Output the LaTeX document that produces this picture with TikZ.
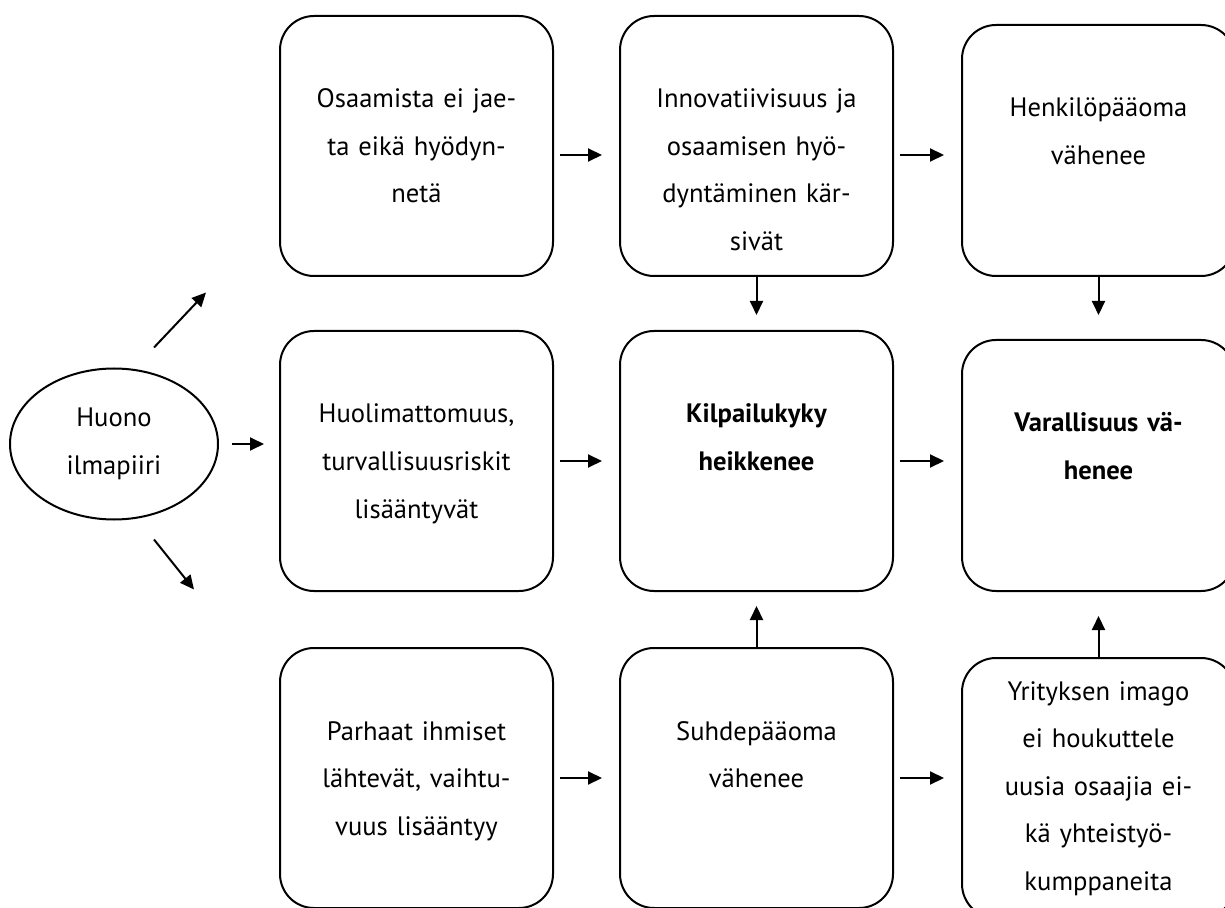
\documentclass[tikz,border=0pt]{standalone}
\usepackage{fontspec}
\setmainfont{PT Sans}
\usetikzlibrary{arrows.meta,positioning,shapes.geometric}
\tikzset{flowbox/.style={draw,line width=1pt,rounded corners=17pt,
 minimum width=136.5pt,minimum height=130pt,inner sep=0pt},
 boxtxt/.style={anchor=base,yshift=-46.5pt,text width=132pt,align=center,
 inner sep=0pt,font=\fontsize{13.3}{23.75}\selectfont},
 flowarr/.style={-{Triangle[length=7pt,width=6.5pt]},line width=1pt,
 shorten <=3pt,shorten >=8.5pt}}

\begin{document}
\begin{tikzpicture}
\useasboundingbox (0,0) rectangle (612.5pt,-454pt);
\node[flowbox,anchor=north west,label={[boxtxt]north:{Osaamista ei jae-\\ta eikä hyödyn-\\netä}}] (osaam) at (139.5pt,-7.5pt) {};
\node[flowbox,right=32.5pt of osaam,label={[boxtxt]north:{Innovatiivisuus ja\\osaamisen hyö-\\dyntäminen kär-\\sivät}}] (innov) {};
\node[flowbox,minimum height=125.5pt,right=33.5pt of innov.south east,anchor=south west,label={[boxtxt]north:{Henkilöpääoma\\vähenee}}] (henk) {};
\node[flowbox,below=26.5pt of osaam,label={[boxtxt]north:{Huolimattomuus,\\turvallisuusriskit\\lisääntyvät}}] (huol) {};
\node[flowbox,below=26.5pt of innov,label={[boxtxt,font=\fontsize{13.3}{23.75}\selectfont\bfseries]north:{Kilpailukyky\\heikkenee}}] (kilp) {};
\node[flowbox,minimum height=125.5pt,right=33.5pt of kilp.south east,anchor=south west,label={[boxtxt,font=\fontsize{13.3}{23.75}\selectfont\bfseries]north:{Varallisuus vä-\\henee}}] (var) {};
\node[flowbox,below=27.5pt of huol,label={[boxtxt]north:{Parhaat ihmiset\\lähtevät, vaihtu-\\vuus lisääntyy}}] (parh) {};
\node[flowbox,below=27.5pt of kilp,label={[boxtxt]north:{Suhdepääoma\\vähenee}}] (suhde) {};
\node[flowbox,right=33.5pt of suhde.north east,anchor=north west,yshift=-5pt,label={[boxtxt,yshift=25pt]north:{Yrityksen imago\\ei houkuttele\\uusia osaajia ei-\\kä yhteistyö-\\kumppaneita}}] (yrit) {};
\node[ellipse,draw,line width=1pt,minimum width=104pt,minimum height=75.5pt,align=center,
 font=\fontsize{13.3}{23.75}\selectfont] (ilma) at (57pt,-222pt) {Huono\\ilmapiiri};
\coordinate (ylaalku) at ([shift={(20pt,10pt)}]ilma.north);
\coordinate (ylaloppu) at ([shift={(46pt,37.5pt)}]ilma.north);
\coordinate (alaalku) at ([shift={(20pt,-9.5pt)}]ilma.south);
\coordinate (alaloppu) at ([shift={(40pt,-34.5pt)}]ilma.south);
\draw[flowarr] ([yshift=-4.5pt]osaam.east) -- ([yshift=-4.5pt]osaam.east -| innov.west);
\draw[flowarr] ([yshift=-4.5pt]innov.east) -- ([yshift=-4.5pt]innov.east -| henk.west);
\draw[flowarr,shorten <=0pt,shorten >=7.5pt] (innov) -- (kilp);
\draw[flowarr,shorten <=0pt,shorten >=12pt] (henk) -- (var);
\draw[flowarr,shorten <=6.5pt,shorten >=7.5pt] (ilma) -- (ilma -| huol.west);
\draw[flowarr] (huol) -- (kilp);
\draw[flowarr] (kilp) -- (kilp -| var.west);
\draw[flowarr,shorten <=0pt,shorten >=7pt] (suhde) -- (kilp);
\draw[flowarr,shorten <=0pt,shorten >=12pt] (yrit) -- (var);
\draw[flowarr] (parh) -- (suhde);
\draw[flowarr] (suhde) -- (suhde -| yrit.west);
\draw[flowarr,shorten <=0pt,shorten >=0pt] (ylaalku) -- (ylaloppu);
\draw[flowarr,shorten <=0pt,shorten >=0pt] (alaalku) -- (alaloppu);
\end{tikzpicture}
\end{document}
